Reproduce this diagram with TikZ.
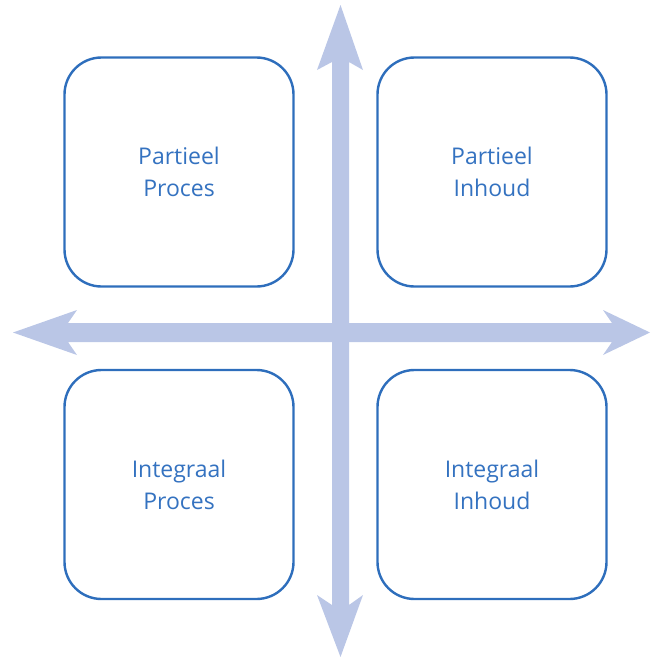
\documentclass[tikz,border=0pt]{standalone}
\usepackage{fontspec}
\setmainfont{Open Sans}
\begin{document}
\begin{tikzpicture}[x=1pt,y=-1pt,
  quadrant/.style={draw=boxblue, line width=2.4pt, rounded corners=37pt,
    minimum width=229pt, minimum height=229pt, align=center,
    text=textblue, font=\fontsize{23}{32}\selectfont, inner sep=0pt},
  axis/.style={fill=axisblue, draw=none}]
  \definecolor{boxblue}{RGB}{46,110,188}
  \definecolor{textblue}{RGB}{52,114,192}
  \definecolor{axisblue}{RGB}{186,198,230}
  \useasboundingbox (0,0) rectangle (651,657);

  % vertical axis with arrow heads at both ends
  \fill[axis] (340.5,5) -- (363,70) -- (349,62) -- (349,605) -- (363,595)
    -- (340.5,657) -- (317,595) -- (332,605) -- (332,62) -- (317,70) -- cycle;
  % horizontal axis with arrow heads at both ends
  \fill[axis] (13,332.5) -- (77,310) -- (68,323) -- (612,323) -- (603,310)
    -- (650,332.5) -- (603,355) -- (612,342) -- (68,342) -- (77,355) -- cycle;

  \node[quadrant] (pp) at (179,172) {Partieel\\Proces};
  \node[quadrant] (pi) at (492,172) {Partieel\\Inhoud};
  \node[quadrant] (ip) at (179,484.5) {Integraal\\Proces};
  \node[quadrant] (ii) at (492,484.5) {Integraal\\Inhoud};
\end{tikzpicture}
\end{document}
